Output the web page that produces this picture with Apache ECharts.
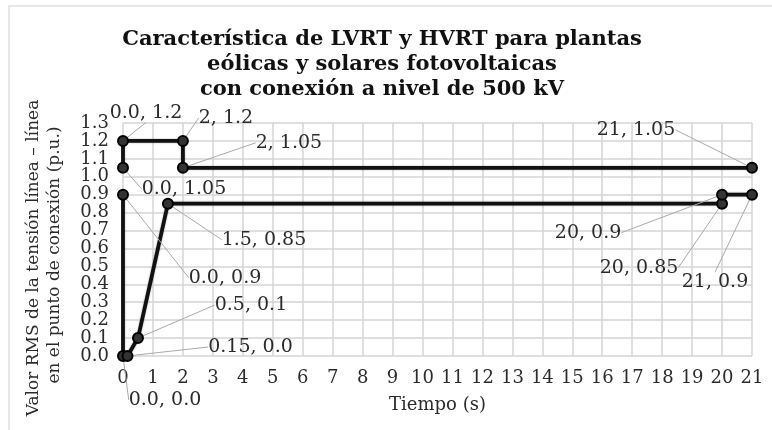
<!DOCTYPE html>
<html>
<head>
<meta charset="utf-8">
<script src="https://cdn.jsdelivr.net/npm/echarts@6/dist/echarts.min.js"></script>
<style>html,body{margin:0;padding:0;background:#fff;}#c{width:772px;height:430px;}</style>
</head>
<body>
<div id="c"></div>
<script>
// ---- data ----
var hvrtX = [0, 0, 2, 2, 21];
var hvrtY = [1.05, 1.2, 1.2, 1.05, 1.05];
var hvrtLabels = ['0.0, 1.05', '0.0, 1.2', '2, 1.2', '2, 1.05', '21, 1.05'];

var lvrtX = [0, 0, 0.15, 0.5, 1.5, 20, 20, 21];
var lvrtY = [0.9, 0.0, 0.0, 0.1, 0.85, 0.85, 0.9, 0.9];
var lvrtLabels = ['0.0, 0.9', '0.0, 0.0', '0.15, 0.0', '0.5, 0.1', '1.5, 0.85', '20, 0.85', '20, 0.9', '21, 0.9'];

var xTicks = {min: 0, max: 21, step: 1};
var yTicks = {min: 0, max: 1.3, step: 0.1};

var titleText = 'Característica de LVRT y HVRT para plantas\neólicas y solares fotovoltaicas\ncon conexión a nivel de 500 kV';
var xName = 'Tiempo (s)';
var yNameLines = ['Valor RMS de la tensión línea – línea', 'en el punto de conexión (p.u.)'];

// label offsets (pixels, label centre relative to point)
var hvrtOffsets = [[61, 21], [23, -28], [43, -23], [106, -25], [-116, -38]];
var lvrtOffsets = [[102, 83], [42, 44], [123, -9], [113, -33], [96, 36], [-83, 64], [-134, 38], [-37, 87]];

function pairs(xs, ys) { return xs.map(function (x, i) { return [x, ys[i]]; }); }

var FONT = 'DejaVu Serif';
var TXT = '#2b2b2b';
var chart = echarts.init(document.getElementById('c'), null, {renderer: 'canvas'});

function makeSeries(name, xs, ys, labels, offsets) {
  return {
    name: name,
    type: 'line',
    data: pairs(xs, ys),
    symbol: 'circle',
    symbolSize: 10,
    lineStyle: {color: '#111', width: 3.8, shadowColor: 'rgba(0,0,0,0.35)', shadowBlur: 2},
    itemStyle: {color: '#333', borderColor: '#000', borderWidth: 2},
    label: {
      show: true,
      position: 'inside',
      fontFamily: FONT,
      fontSize: 19,
      color: TXT,
      formatter: function (p) { return labels[p.dataIndex]; }
    },
    labelLine: {show: true, lineStyle: {color: '#aaa', width: 1}},
    labelLayout: function (p) {
      var o = offsets[p.dataIndex];
      return {dx: o[0], dy: o[1]};
    },
    emphasis: {disabled: true},
    animation: false,
    z: 3
  };
}

var option = {
  backgroundColor: '#fff',
  animation: false,
  title: {
    text: titleText,
    left: 377,
    top: 22,
    textAlign: 'center',
    textStyle: {fontFamily: FONT, fontWeight: 'bold', fontSize: 21, lineHeight: 25, color: '#111'}
  },
  grid: {left: 123, right: 20, top: 123, bottom: 74, containLabel: false},
  xAxis: {
    type: 'value',
    min: xTicks.min, max: xTicks.max, interval: xTicks.step,
    name: xName,
    nameLocation: 'middle',
    nameGap: 40,
    nameTextStyle: {fontFamily: FONT, fontSize: 18, color: TXT},
    axisLine: {show: false},
    axisTick: {show: false},
    axisLabel: {fontFamily: FONT, fontSize: 18, color: TXT, margin: 13},
    splitLine: {show: true, lineStyle: {color: '#d4d4d4', width: 1.5}}
  },
  yAxis: {
    type: 'value',
    min: yTicks.min, max: yTicks.max, interval: yTicks.step,
    axisLine: {show: false},
    axisTick: {show: false},
    axisLabel: {fontFamily: FONT, fontSize: 18, color: TXT, margin: 14,
      formatter: function (v) { return v.toFixed(1); }},
    splitLine: {show: true, lineStyle: {color: '#d4d4d4', width: 1.5}}
  },
  graphic: [
    {type: 'rect', shape: {x: 9, y: 6, width: 900, height: 600}, style: {fill: 'none', stroke: '#e0e0e0', lineWidth: 1.5}, z: -1, silent: true},
    {type: 'text', x: 34, y: 258, rotation: Math.PI / 2, style: {text: yNameLines[0], fontFamily: FONT, fontSize: 17, fill: TXT, align: 'center', verticalAlign: 'middle'}},
    {type: 'text', x: 55, y: 255, rotation: Math.PI / 2, style: {text: yNameLines[1], fontFamily: FONT, fontSize: 17, fill: TXT, align: 'center', verticalAlign: 'middle'}}
  ],
  series: [
    makeSeries('HVRT', hvrtX, hvrtY, hvrtLabels, hvrtOffsets),
    makeSeries('LVRT', lvrtX, lvrtY, lvrtLabels, lvrtOffsets)
  ]
};
chart.setOption(option);
</script>
</body>
</html>
